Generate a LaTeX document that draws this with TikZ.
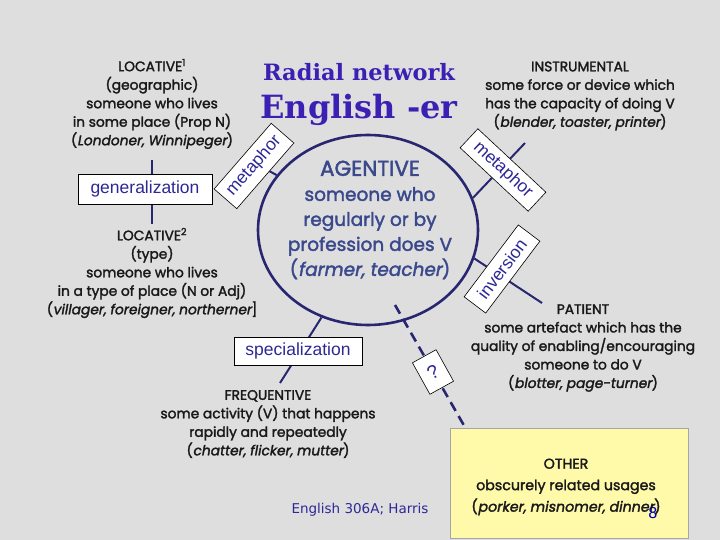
\documentclass[tikz,border=0pt]{standalone}
\usepackage{fontspec}
\usetikzlibrary{shapes.geometric}
\newfontfamily\fut{Poppins}[AutoFakeSlant=0.18, FakeBold=2]
\newfontfamily\ars{Liberation Sans}
\newfontfamily\ttl{DejaVu Serif}
\newfontfamily\cms{DejaVu Sans}
\definecolor{bg}{RGB}{222,222,222}
\definecolor{navy}{RGB}{40,38,112}
\definecolor{ink}{RGB}{25,25,25}
\definecolor{agblue}{RGB}{58,72,140}
\definecolor{lblue}{RGB}{45,40,150}
\definecolor{ttlblue}{RGB}{60,32,180}
\definecolor{yel}{RGB}{255,249,170}
\tikzset{
  blk/.style={align=center, text=ink, inner sep=0pt, font=\fut\fontsize{13.8}{18.5}\selectfont},
  lab/.style={draw=black, line width=0.6pt, fill=white, text=lblue, inner sep=0pt, font=\ars\fontsize{17.5}{19}\selectfont},
  conn/.style={draw=navy, line width=2.4pt},
}
\begin{document}
\begin{tikzpicture}[x=1pt,y=-1pt]
\fill[bg] (0,0) rectangle (720,540);
\useasboundingbox (0,0) rectangle (720,540);

% titles
\node[text=ttlblue, font=\ttl\bfseries\fontsize{22.5}{24}\selectfont] (t1) at (359,72) {Radial network};
\node[text=ttlblue, font=\ttl\bfseries\fontsize{32}{34}\selectfont] (t2) at (359,110) {English -er};

% central ellipse
\node[ellipse, draw=navy, line width=2.6pt, minimum width=220pt, minimum height=190pt, inner sep=0pt] (circ) at (368,230) {};
\node[align=center, text=agblue, inner sep=0pt, font=\fut\fontsize{18.5}{25}\selectfont] (agent) at (370,220)
  {\fontsize{21.5}{25}\selectfont AGENTIVE\\someone who\\regularly or by\\profession does V\\({\itshape farmer, teacher})};

% blocks
\node[blk] (loc1) at (152,104) {LOCATIVE\textsuperscript{1}\\(geographic)\\someone who lives\\in some place (Prop N)\\({\itshape Londoner, Winnipeger})};
\node[blk] (loc2) at (152,273) {LOCATIVE\textsuperscript{2}\\(type)\\someone who lives\\in a type of place (N or Adj)\\({\itshape villager, foreigner, northerner}]};
\node[blk] (instr) at (580,96) {INSTRUMENTAL\\some force or device which\\has the capacity of doing V\\({\itshape blender, toaster, printer})};
\node[blk] (pat) at (583,348) {PATIENT\\some artefact which has the\\quality of enabling/encouraging\\someone to do V\\({\itshape blotter, page-turner})};
\node[blk] (freq) at (268,424) {FREQUENTIVE\\some activity (V) that happens\\rapidly and repeatedly\\({\itshape chatter, flicker, mutter})};

% other box
\node[draw=gray!70, line width=0.5pt, fill=yel, minimum width=238pt, minimum height=110pt, inner sep=0pt] (other) at (569,483) {};
\node[blk, font=\fut\fontsize{14.2}{21.5}\selectfont] (othertxt) at (566,487) {OTHER\\obscurely related usages\\({\itshape porker, misnomer, dinner})};
\node[text=blue!70!black, font=\cms\fontsize{15}{16}\selectfont, inner sep=0pt] (pg) at (653,513) {8};
\node[text=lblue, font=\cms\fontsize{13.5}{15}\selectfont, inner sep=0pt] (foot) at (360,510) {English 306A; Harris};

% connector coordinates
\coordinate (g1) at (152,160);
\coordinate (g2) at (152,224);
\coordinate (lm) at (262,167);
\coordinate (rm) at (525,143);
\coordinate (iv) at (542,303);
\coordinate (sp) at (280,383);
\coordinate (q0) at (395,305);
\coordinate (q1) at (466,429);

% connectors
\draw[conn, line width=2.2pt] (g1) -- (g2);
\draw[conn, line width=2pt] (circ.149) -- (lm);
\draw[conn, line width=2pt] (circ.17) -- (rm);
\draw[conn, line width=2pt] (circ.-15) -- (iv);
\draw[conn, line width=2pt] (circ.242) -- (sp);
\draw[conn, line width=2.6pt, dash pattern=on 10pt off 6pt] (q0) -- (q1);

% labels
\node[lab, minimum width=134pt, minimum height=30pt] (gen) at (145,189) {generalization};
\node[lab, minimum width=128pt, minimum height=28pt] (spec) at (298,351) {specialization};
\node[lab, minimum width=87pt, minimum height=30pt, rotate=49] (met1) at (254,166) {metaphor};
\node[lab, minimum width=93pt, minimum height=26pt, rotate=-43] (met2) at (503,170) {metaphor};
\node[lab, minimum width=90pt, minimum height=27pt, rotate=53] (inv) at (502,269) {inversion};
\node[lab, minimum width=27pt, minimum height=36pt, rotate=29, font=\ars\fontsize{19}{19}\selectfont] (q) at (433,372) {?};
\end{tikzpicture}
\end{document}
